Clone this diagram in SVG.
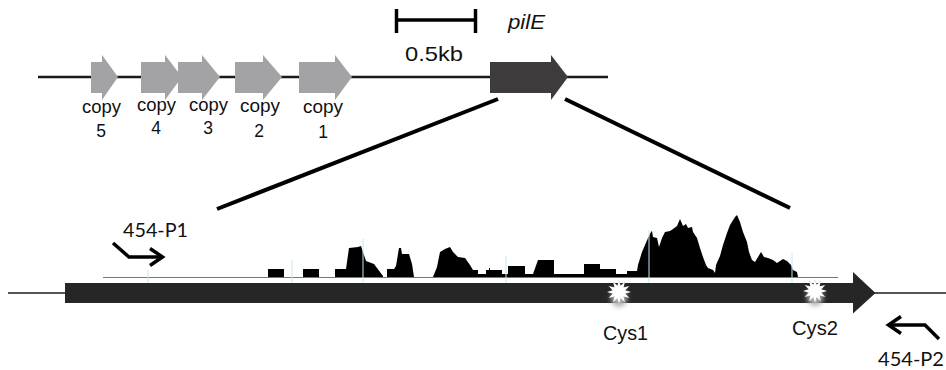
<svg xmlns="http://www.w3.org/2000/svg" width="946" height="370" viewBox="0 0 946 370">
<style>
.lbl{font-family:"Liberation Sans",Arial,sans-serif;fill:#111}
.cp{font-size:17.5px;text-anchor:start}
.num{font-size:17.5px;text-anchor:middle}
.pr{font-family:Lato,"Liberation Sans",sans-serif;font-size:20px;fill:#111}
.gray{fill:#a3a3a5}
.bend{fill:none;stroke:#000;stroke-width:3.5;stroke-linecap:butt;stroke-linejoin:miter}
.tick{stroke:#c4e6f7;stroke-width:1}
</style>
<defs>
<filter id="blur" x="-1" y="-1" width="3" height="3"><feGaussianBlur stdDeviation="2.5"/></filter>
<filter id="soft" x="-0.5" y="-0.5" width="2" height="2"><feGaussianBlur stdDeviation="0.6"/></filter>
<polygon id="starShape" points="11,0 5.8,1.55 9.53,5.5 4.24,4.24 5.5,9.53 1.55,5.8 0,11 -1.55,5.8 -5.5,9.53 -4.24,4.24 -9.53,5.5 -5.8,1.55 -11,0 -5.8,-1.55 -9.53,-5.5 -4.24,-4.24 -5.5,-9.53 -1.55,-5.8 0,-11 1.55,-5.8 5.5,-9.53 4.24,-4.24 9.53,-5.5 5.8,-1.55"/>
<g id="star">
<ellipse cx="0" cy="6" rx="8" ry="9" fill="#b0b0b0" filter="url(#blur)"/>
<use href="#starShape" fill="#d0d0d0" transform="scale(1.1)" filter="url(#soft)"/>
<use href="#starShape" fill="#ffffff"/>
</g>
</defs>
<rect width="946" height="370" fill="#ffffff"/>

<!-- top genomic map -->
<g id="map-line"><line x1="38" y1="77" x2="608" y2="77" stroke="#1a1a1a" stroke-width="2.5"/></g>

<g id="copy5">
<polygon class="gray" points="91,62 102,62 102,55 118,77 102,100 102,93 91,93"/>
<text class="lbl cp" x="82" y="113" textLength="39" lengthAdjust="spacingAndGlyphs">copy</text>
<text class="lbl num" x="101" y="137">5</text>
</g>
<g id="copy4">
<polygon class="gray" points="141,62 165,62 165,55 182,77 165,100 165,93 141,93"/>
<text class="lbl cp" x="137" y="111" textLength="39" lengthAdjust="spacingAndGlyphs">copy</text>
<text class="lbl num" x="156" y="134">4</text>
</g>
<g id="copy3">
<polygon class="gray" points="178,62 202,62 202,55 220,77 202,100 202,93 178,93"/>
<text class="lbl cp" x="189" y="111" textLength="39" lengthAdjust="spacingAndGlyphs">copy</text>
<text class="lbl num" x="208" y="134">3</text>
</g>
<g id="copy2">
<polygon class="gray" points="235,62 263,62 263,55 282,77 263,100 263,93 235,93"/>
<text class="lbl cp" x="240" y="112" textLength="40" lengthAdjust="spacingAndGlyphs">copy</text>
<text class="lbl num" x="259" y="137">2</text>
</g>
<g id="copy1">
<polygon class="gray" points="299,62 335,62 335,55 352,77 335,100 335,93 299,93"/>
<text class="lbl cp" x="303" y="113" textLength="40" lengthAdjust="spacingAndGlyphs">copy</text>
<text class="lbl num" x="323" y="138">1</text>
</g>

<g id="scale-bar">
<line x1="395" y1="20" x2="477" y2="20" stroke="#000" stroke-width="3.5"/>
<line x1="396.5" y1="9" x2="396.5" y2="33" stroke="#000" stroke-width="3.5"/>
<line x1="475.5" y1="9" x2="475.5" y2="33" stroke="#000" stroke-width="3.5"/>
<text class="lbl" x="405" y="61" font-size="21" textLength="58" lengthAdjust="spacingAndGlyphs">0.5kb</text>
</g>

<g id="pilE">
<polygon fill="#3d3b3c" points="490,62 551,62 551,55 568,77 551,100 551,93 490,93"/>
<text class="lbl" x="508" y="29" font-size="19.5" font-style="italic" textLength="37" lengthAdjust="spacingAndGlyphs">pilE</text>
</g>

<g id="connectors">
<line x1="498" y1="99" x2="217" y2="209" stroke="#000" stroke-width="4"/>
<line x1="565" y1="99" x2="790" y2="208" stroke="#000" stroke-width="4"/>
</g>

<!-- expanded pilE -->
<g id="flank-lines">
<line x1="8" y1="293" x2="66" y2="293" stroke="#555" stroke-width="2"/>
<line x1="874" y1="293" x2="946" y2="293" stroke="#555" stroke-width="2"/>
</g>

<g id="coverage">
<line x1="103" y1="277.5" x2="838" y2="277.5" stroke="#777" stroke-width="1"/>
<path fill="#000" d="M268,277 V269 H284 V277 Z
M303,277 V269 H319 V277 Z
M335,277 V269 H346 L349,248 L358,247 L361,246 L366,261 L374,264 L383,276 V277 Z
M387,277 V269 H394 L396,266 L399,248 H401 L402,254 H409 L412,264 L414,277 Z
M433,277 L437,267 L440,252 L445,249 L450,247 L453,252 L458,257 L465,258 L470,265 L473,270 H478 V274 H486 V270 H489 V268 H490 V270 H502 V274 H508 V266 H525 V274 H533 L538,260 H554 V274 H584 V264 H600 V269 H616 V274 H627 V271 H637 L638,265 L642,252 L645,245 L648,238 L651,232 L652,231 L653,237 L657,238 L659,247 L662,238 L665,232 L670,231 L673,229 L677,226 L680,219 L683,226 L686,224 L688,228 L692,227 L693,232 L697,238 L700,248 L703,257 L706,265 L708,268 L713,270 L715,273 L716,265 L720,256 L723,245 L727,233 L730,225 L735,217 L737,215 L740,222 L743,232 L747,242 L749,252 L752,260 L755,262 L758,257 L761,252 L764,257 L768,258 L773,260 L777,263 L783,259 L787,261 L791,265 L793,270 L797,272 L798,277 Z"/>
<line class="tick" x1="148" y1="270" x2="148" y2="283"/>
<line class="tick" x1="292" y1="260" x2="292" y2="283"/>
<line class="tick" x1="363" y1="239" x2="363" y2="283"/>
<line class="tick" x1="506" y1="256" x2="506" y2="283"/>
<line class="tick" x1="649" y1="230" x2="649" y2="283"/>
<line class="tick" x1="792" y1="253" x2="792" y2="283"/>
</g>

<g id="pilE-expanded">
<polygon fill="#262626" points="65,283 853,283 853,272 875.5,293 853,313.5 853,303 65,303"/>
</g>

<g id="cys1">
<use href="#star" x="619" y="292"/>
<text class="lbl" x="603" y="340" font-size="20.5" textLength="45" lengthAdjust="spacingAndGlyphs">Cys1</text>
</g>
<g id="cys2">
<use href="#star" x="815" y="291"/>
<text class="lbl" x="792" y="335" font-size="20.5" textLength="46" lengthAdjust="spacingAndGlyphs">Cys2</text>
</g>

<g id="primer-P1">
<polyline class="bend" points="113,243 129,257 162,257"/>
<polyline class="bend" points="150,248.5 162.5,257 150,265.5"/>
<text class="pr" x="123" y="237" textLength="65" lengthAdjust="spacingAndGlyphs">454-P1</text>
</g>
<g id="primer-P2">
<polyline class="bend" points="939,339 925,325 889,325"/>
<polyline class="bend" points="901,316.5 888.5,325 901,333.5"/>
<text class="pr" x="878" y="366" textLength="66" lengthAdjust="spacingAndGlyphs">454-P2</text>
</g>
</svg>
